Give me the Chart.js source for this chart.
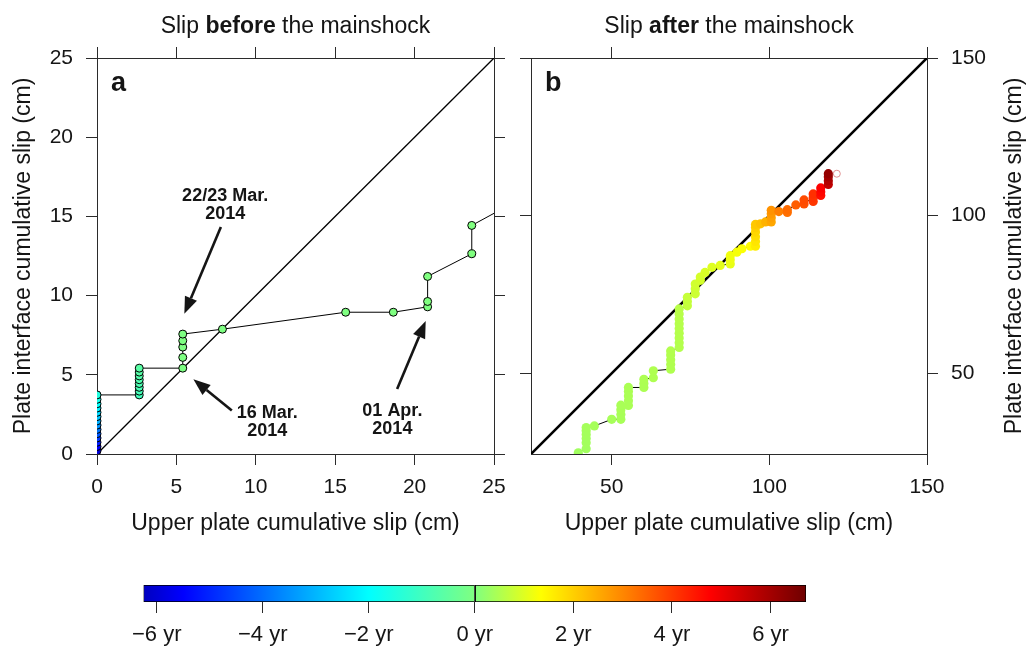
<!DOCTYPE html>
<html>
<head>
<meta charset="utf-8">
<script src="https://cdn.jsdelivr.net/npm/chart.js@4.4.0/dist/chart.umd.min.js"></script>
<style>
  html, body { margin: 0; padding: 0; background: #fff; }
  #wrap { position: relative; width: 1028px; height: 646px; }
  canvas { position: absolute; }
</style>
</head>
<body>
<div id="wrap">
  <canvas id="chartA" width="520" height="560" style="left:0;top:0"></canvas>
  <canvas id="chartB" width="520" height="560" style="left:508px;top:0"></canvas>
  <canvas id="chartC" width="1028" height="86" style="left:0;top:560px"></canvas>
</div>
<script>
/* slip before / after the mainshock + time colour bar */

const FONT = "'Liberation Sans', Arial, Helvetica, sans-serif";
const INK = '#151515';
const FRAME = '#2b2b2b';

// panel a - before the mainshock (cm, cm, years rel. to mainshock)
const preX = [0,0,0,0,0,0,0,0,0,0,0,0,0,0,
  2.66,2.66,2.66,2.66,2.66,2.66,2.66,2.66,
  5.4,5.4,5.4,5.4,5.4,
  7.9,15.66,18.66,20.82,20.82,20.82,23.6,23.6,26.2];
const preY = [0.2,0.47,0.74,1.01,1.28,1.55,1.82,2.09,2.36,2.63,2.9,3.17,3.45,3.73,
  3.73,3.97,4.21,4.45,4.69,4.93,5.17,5.42,
  5.42,6.1,6.75,7.15,7.57,
  7.88,8.95,8.95,9.29,9.63,11.21,12.64,14.43,15.85];
const preT = [-5.9,-5.5,-5.1,-4.7,-4.3,-3.9,-3.5,-3.1,-2.8,-2.5,-2.2,-1.95,-1.7,-1.5,
  -0.95,-0.9,-0.85,-0.8,-0.75,-0.7,-0.65,-0.6,
  -0.044,-0.03,-0.028,-0.027,-0.025,
  -0.024,-0.02,-0.015,-0.008,-0.006,-0.004,-0.003,-0.002,-0.001];

// panel b - after the mainshock
const postX = [39.4,
  41.9,41.9,41.9,41.9,41.9,41.9,
  44.5, 50.0,
  52.9,52.9,52.9,52.9,
  55.3,55.3,55.3,55.3,55.3,
  60.2,60.2,60.2,
  63.2,63.2,
  68.7,68.7,68.7,68.7,68.7,
  71.4,71.4,71.4,71.4,71.4,71.4,71.4,71.4,71.4,
  74.0,74.0,74.0,
  76.5,76.5,76.5,
  78.1,78.1,
  79.6, 81.8, 84.4,
  87.6,87.6,87.6,
  89.7, 91.3, 94.0,
  95.6,95.6,95.6,95.6,95.6,95.6,
  97.2, 98.8,
  100.6,100.6,100.6,100.6,
  103.0,
  105.7,105.7,
  108.4,
  111.0,111.0,
  113.9,113.9,113.9,
  116.3,116.3,116.3,
  118.7,118.7,118.7,118.7];
const postY = [24.8,
  26.1,28.0,29.3,30.6,31.8,32.8,
  33.3, 35.4,
  35.4,36.9,38.4,39.9,
  39.8,41.3,42.8,44.2,45.5,
  45.5,46.8,48.1,
  48.6,50.8,
  51.3,52.8,54.3,55.8,57.1,
  58.2,59.7,61.2,62.7,64.2,65.7,67.2,68.8,70.4,
  71.4,72.8,74.1,
  75.2,76.8,78.3,
  79.5,80.5,
  82.0, 83.6, 84.2,
  84.7,86.0,87.3,
  88.4, 89.5, 90.3,
  90.3,91.8,93.3,94.8,96.2,97.2,
  97.4, 98.0,
  98.0,99.3,100.6,101.7,
  101.3,
  101.0,101.9,
  103.4,
  103.7,105.0,
  104.5,105.7,106.9,
  106.4,107.6,108.8,
  109.9,111.1,112.3,113.3];
const postT = [0.35,
  0.36,0.37,0.37,0.38,0.38,0.39,
  0.4, 0.41,
  0.42,0.42,0.43,0.43,
  0.44,0.44,0.45,0.45,0.46,
  0.47,0.47,0.48,
  0.49,0.5,
  0.51,0.51,0.52,0.52,0.53,
  0.54,0.54,0.55,0.55,0.56,0.56,0.57,0.58,0.6,
  0.7,0.72,0.74,
  0.8,0.82,0.85,
  0.88,0.9,
  0.95, 1.0, 1.05,
  1.1,1.15,1.2,
  1.25, 1.3, 1.4,
  1.6,1.7,1.8,1.9,2.0,2.1,
  2.2, 2.4,
  2.55,2.65,2.75,2.85,
  3.1,
  3.3,3.35,
  3.55,
  3.75,3.8,
  4.05,4.1,4.15,
  4.6,4.7,4.8,
  5.6,5.8,6.0,6.2];
const lastX = [121.4], lastY = [113.3];

// axes
const ticksA = [0, 5, 10, 15, 20, 25];
const rangeA = [0, 25];
const ticksB = [50, 100, 150];
const rangeB = [24.4, 150];
const xTitle = 'Upper plate cumulative slip (cm)';
const yTitle = 'Plate interface cumulative slip (cm)';
const titleA = [['Slip ', false], ['before', true], [' the mainshock', false]];
const titleB = [['Slip ', false], ['after', true], [' the mainshock', false]];

// colour bar (years)
const cbMin = -6.25, cbMax = 6.72;
const cbTicksNeg = [-6, -4, -2];
const cbTicksPos = [0, 2, 4, 6];
const cmapStops = [[0,'#0000c0'],[0.06,'#0000ff'],[0.34,'#00ffff'],[0.5,'#80ff80'],
  [0.6,'#ffff00'],[0.73,'#ff8000'],[0.855,'#ff0000'],[1,'#6e0000']];

// annotations on panel a (data coords): text anchor, arrow tail -> tip
const notes = [
  { lines: ['22/23 Mar.', '2014'], at: [8.07, 16.3], from: [7.8, 14.33], to: [5.5, 8.85] },
  { lines: ['16 Mar.', '2014'], at: [10.72, 2.59], from: [8.49, 2.74], to: [6.07, 4.72] },
  { lines: ['01 Apr.', '2014'], at: [18.6, 2.72], from: [18.9, 4.1], to: [20.7, 8.4] }
];

function hexRgb(h) { return [1, 3, 5].map(i => parseInt(h.substr(i, 2), 16)); }
function yrFrac(t) { return t < 0 ? 0.5 - 0.5 * t / cbMin : 0.5 + 0.5 * t / cbMax; }
function colorAt(t) {
  const f = Math.max(0, Math.min(1, yrFrac(t)));
  for (let i = 1; i < cmapStops.length; i++) {
    if (f <= cmapStops[i][0]) {
      const [f0, c0] = cmapStops[i - 1], [f1, c1] = cmapStops[i];
      const k = (f - f0) / (f1 - f0), a = hexRgb(c0), b = hexRgb(c1);
      return 'rgb(' + a.map((v, j) => Math.round(v + (b[j] - v) * k)).join(',') + ')';
    }
  }
  return cmapStops[cmapStops.length - 1][1];
}
const pts = (xs, ys) => xs.map((x, i) => ({ x, y: ys[i] }));

function frameAxis(pos, range, ticksAt, size, showLabels, pad) {
  return {
    type: 'linear', position: pos, min: range[0], max: range[1],
    afterBuildTicks: s => { s.ticks = ticksAt.map(v => ({ value: v })); },
    afterFit: s => { if (pos === 'left' || pos === 'right') s.width = size; else s.height = size; },
    grid: { drawOnChartArea: false, drawTicks: true, tickLength: 11, color: FRAME, lineWidth: 1 },
    border: { display: true, color: FRAME, width: 1 },
    ticks: { display: showLabels, padding: pad, color: INK, maxRotation: 0, font: { family: FONT, size: 21 } }
  };
}

function arrow(c, x0, y0, x1, y1) {
  const ang = Math.atan2(y1 - y0, x1 - x0), L = 17, W = 6.5;
  const bx = x1 - L * Math.cos(ang), by = y1 - L * Math.sin(ang);
  c.strokeStyle = INK; c.lineWidth = 2.6;
  c.beginPath(); c.moveTo(x0, y0); c.lineTo(bx, by); c.stroke();
  c.beginPath(); c.moveTo(x1, y1);
  c.lineTo(bx + W * Math.sin(ang), by - W * Math.cos(ang));
  c.lineTo(bx - W * Math.sin(ang), by + W * Math.cos(ang));
  c.closePath(); c.fill();
}

function makeDeco(cfg) {
  return {
    id: 'deco' + cfg.letter,
    afterDraw(chart) {
      const c = chart.ctx, a = chart.chartArea;
      const sx = chart.scales.x, sy = chart.scales.y;
      c.save();
      c.fillStyle = INK; c.textBaseline = 'middle'; c.textAlign = 'left';
      // title with a bold word
      let w = 0;
      const widths = cfg.title.map(([t, b]) => { c.font = (b ? 'bold ' : '') + '23px ' + FONT; const m = c.measureText(t).width; w += m; return m; });
      let x = (a.left + a.right) / 2 - w / 2;
      cfg.title.forEach(([t, b], i) => { c.font = (b ? 'bold ' : '') + '23px ' + FONT; c.fillText(t, x, 27); x += widths[i]; });
      // panel letter
      c.font = 'bold 27px ' + FONT;
      c.fillText(cfg.letter, a.left + 14, 84);
      // notes + arrows
      (cfg.notes || []).forEach(n => {
        c.font = 'bold 18px ' + FONT; c.textAlign = 'center';
        const px = sx.getPixelForValue(n.at[0]), py = sy.getPixelForValue(n.at[1]);
        n.lines.forEach((l, i) => c.fillText(l, px, py + i * 18.5));
        arrow(c, sx.getPixelForValue(n.from[0]), sy.getPixelForValue(n.from[1]),
          sx.getPixelForValue(n.to[0]), sy.getPixelForValue(n.to[1]));
      });
      // right-hand axis title reading upwards
      if (cfg.rightTitle) {
        c.translate(chart.width - 13, (a.top + a.bottom) / 2);
        c.rotate(-Math.PI / 2);
        c.textAlign = 'center'; c.font = '23px ' + FONT;
        c.fillText(cfg.rightTitle, 0, 0);
      }
      c.restore();
    }
  };
}

const axisTitle = (pad) => ({ display: true, text: '', color: INK, font: { family: FONT, size: 23 }, padding: pad });
const quiet = { legend: { display: false }, tooltip: { enabled: false }, colors: { enabled: false } };

// panel a
const xa = frameAxis('bottom', rangeA, ticksA, 106, true, 10);
xa.title = Object.assign(axisTitle({ top: 0, bottom: 23 }), { text: xTitle });
const ya = frameAxis('left', rangeA, ticksA, 97, true, 13);
ya.title = Object.assign(axisTitle({ top: 10, bottom: 0 }), { text: yTitle });

new Chart(document.getElementById('chartA'), {
  type: 'scatter',
  data: { datasets: [
    { data: pts(preX, preY), showLine: true, borderColor: '#000', borderWidth: 1,
      pointRadius: 4, pointHoverRadius: 4, pointBorderColor: '#000', pointBorderWidth: 1,
      pointBackgroundColor: preT.map(colorAt), order: 0 },
    { data: pts(rangeA, rangeA), showLine: true, borderColor: '#000', borderWidth: 1.3, pointRadius: 0, order: 1 }
  ]},
  options: {
    responsive: false, animation: false, layout: { padding: 0 },
    scales: {
      x: xa, y: ya,
      xTop: frameAxis('top', rangeA, ticksA, 58, false, 0),
      yRight: frameAxis('right', rangeA, ticksA, 26, false, 0)
    },
    plugins: quiet
  },
  plugins: [makeDeco({ title: titleA, letter: 'a', notes })]
});

// panel b
const xb = frameAxis('bottom', rangeB, ticksB, 106, true, 10);
xb.title = Object.assign(axisTitle({ top: 0, bottom: 23 }), { text: xTitle });

new Chart(document.getElementById('chartB'), {
  type: 'scatter',
  data: { datasets: [
    { data: pts(postX, postY), showLine: true, borderColor: '#000', borderWidth: 1,
      pointRadius: 4.6, pointHoverRadius: 4.6, pointBorderWidth: 0,
      pointBackgroundColor: postT.map(colorAt), order: 0 },
    { data: pts(lastX, lastY), pointRadius: 3.5, pointBorderColor: '#e09090', pointBorderWidth: 1,
      pointBackgroundColor: '#fff', order: 1 },
    { data: pts(rangeB, rangeB), showLine: true, borderColor: '#000', borderWidth: 2.6, pointRadius: 0, order: 2 }
  ]},
  options: {
    responsive: false, animation: false, layout: { padding: 0 },
    scales: {
      x: xb,
      y: frameAxis('right', rangeB, ticksB, 101, true, 13),
      xTop: frameAxis('top', rangeB, ticksB, 58, false, 0),
      yLeft: frameAxis('left', rangeB, ticksB, 23, false, 0)
    },
    plugins: quiet
  },
  plugins: [makeDeco({ title: titleB, letter: 'b', rightTitle: yTitle })]
});

// colour bar: two half-width axes stacked side by side
function barGradient(ctx) {
  const a = ctx.chart.chartArea;
  if (!a) return '#fff';
  const g = ctx.chart.ctx.createLinearGradient(a.left, 0, a.right, 0);
  cmapStops.forEach(([f, col]) => g.addColorStop(f, col));
  return g;
}
function cbAxis(range, ticksAt) {
  return {
    type: 'linear', position: 'bottom', stack: 'cb', stackWeight: 1, min: range[0], max: range[1],
    afterBuildTicks: s => { s.ticks = ticksAt.map(v => ({ value: v })); },
    afterFit: s => { s.height = 44; },
    grid: { drawOnChartArea: false, drawTicks: true, tickLength: 11, color: FRAME },
    border: { display: false },
    ticks: { padding: 9, color: INK, maxRotation: 0, autoSkip: false, font: { family: FONT, size: 22 },
      callback: v => (v < 0 ? '\u2212' + Math.abs(v) : v) + ' yr' }
  };
}
const cbBar = { grouped: false, barPercentage: 1, categoryPercentage: 1,
  backgroundColor: barGradient, borderColor: '#000', borderWidth: 1, borderSkipped: false };

new Chart(document.getElementById('chartC'), {
  type: 'bar',
  data: { labels: [''], datasets: [
    Object.assign({ data: [[cbMin, 0]], xAxisID: 'xl' }, cbBar),
    Object.assign({ data: [[0, cbMax]], xAxisID: 'xr' }, cbBar)
  ]},
  options: {
    indexAxis: 'y', responsive: false, animation: false,
    layout: { padding: { left: 143.5, right: 222, top: 25, bottom: 0 } },
    scales: {
      y: { display: false },
      xl: cbAxis([cbMin, 0], cbTicksNeg),
      xr: cbAxis([0, cbMax], cbTicksPos)
    },
    plugins: quiet
  }
});
</script>
</body>
</html>
